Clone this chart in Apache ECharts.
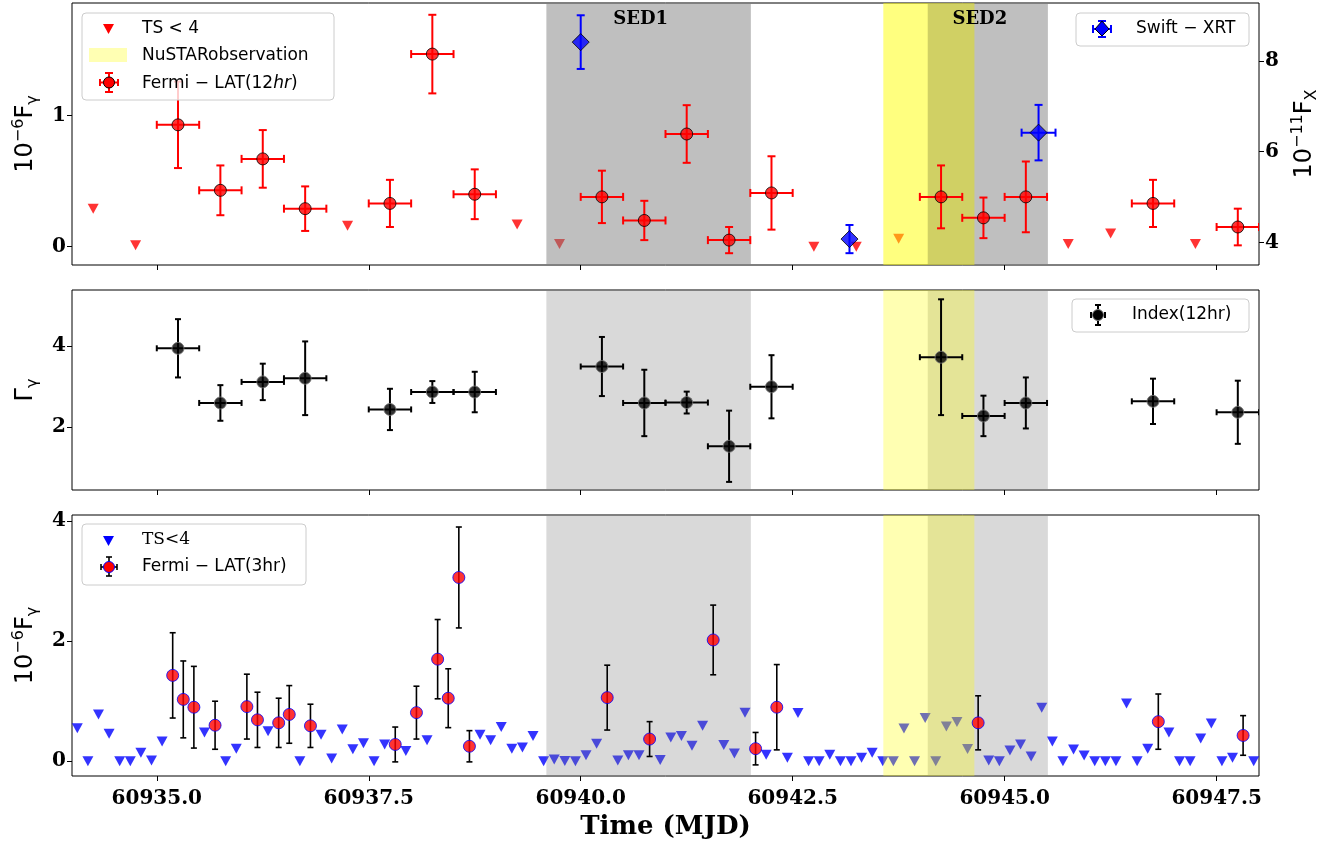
<!DOCTYPE html>
<html>
<head>
<meta charset="utf-8">
<script src="https://cdn.jsdelivr.net/npm/echarts@6/dist/echarts.min.js"></script>
<style>
  html, body { margin: 0; padding: 0; background: #fff; }
  #container { width: 1341px; height: 843px; }
</style>
</head>
<body>
<div id="container"></div>
<script>
var dom = document.getElementById("container");
var myChart = echarts.init(dom);
var option = null;

// x ticks / ranges
var xTicks = [60935.0, 60937.5, 60940.0, 60942.5, 60945.0, 60947.5];
var sedRanges = [[60939.595, 60942.007], [60944.093, 60945.51]];
var sedNames = ['SED1', 'SED2'];
var nustarRange = [60943.569, 60944.643];

// Fermi-LAT 12hr flux (top)
var lat12T = [60935.25, 60935.75, 60936.25, 60936.75, 60937.75, 60938.25, 60938.75, 60940.25, 60940.75, 60941.25, 60941.75, 60942.25, 60944.25, 60944.75, 60945.25, 60946.75, 60947.75];
var lat12F = [0.93, 0.43, 0.67, 0.29, 0.33, 1.47, 0.40, 0.38, 0.20, 0.86, 0.05, 0.41, 0.38, 0.22, 0.38, 0.33, 0.15];
var lat12Err = [0.33, 0.19, 0.22, 0.17, 0.18, 0.30, 0.19, 0.20, 0.15, 0.22, 0.10, 0.28, 0.24, 0.155, 0.27, 0.18, 0.14];
var halfBin12 = 0.25;

// 12hr upper limits (TS < 4)
var ul12T = [60934.25, 60934.75, 60937.25, 60939.25, 60939.75, 60942.75, 60943.25, 60943.75, 60945.75, 60946.25, 60947.25];
var ul12F = [0.29, 0.01, 0.16, 0.17, 0.02, 0.0, 0.0, 0.06, 0.02, 0.10, 0.02];

// Swift-XRT (right axis)
var xrtT = [60940.0, 60943.17, 60945.4];
var xrtF = [8.41, 4.08, 6.42];
var xrtErr = [0.59, 0.31, 0.61];
var xrtTErr = [0, 0, 0.2];

// photon index 12hr (middle)
var idxT = [60935.25, 60935.75, 60936.25, 60936.75, 60937.75, 60938.25, 60938.75, 60940.25, 60940.75, 60941.25, 60941.75, 60942.25, 60944.25, 60944.75, 60945.25, 60946.75, 60947.75];
var idxV = [3.94, 2.59, 3.11, 3.20, 2.43, 2.86, 2.86, 3.49, 2.59, 2.60, 1.52, 2.99, 3.72, 2.27, 2.59, 2.63, 2.36];
var idxErr = [0.72, 0.44, 0.45, 0.91, 0.51, 0.27, 0.50, 0.73, 0.82, 0.27, 0.88, 0.78, 1.43, 0.50, 0.63, 0.56, 0.78];

// Fermi-LAT 3hr flux (bottom)
var lat3T = [60935.1875, 60935.3125, 60935.4375, 60935.6875, 60936.0625, 60936.1875, 60936.4375, 60936.5625, 60936.8125, 60937.8125, 60938.0625, 60938.3125, 60938.4375, 60938.5625, 60938.6875, 60940.3125, 60940.8125, 60941.5625, 60942.0625, 60942.3125, 60944.6875, 60946.8125, 60947.8125];
var lat3F = [1.43, 1.03, 0.90, 0.60, 0.91, 0.69, 0.64, 0.78, 0.59, 0.28, 0.81, 1.70, 1.05, 3.06, 0.25, 1.06, 0.37, 2.02, 0.21, 0.90, 0.64, 0.66, 0.43];
var lat3Err = [0.71, 0.64, 0.68, 0.40, 0.54, 0.46, 0.41, 0.48, 0.36, 0.29, 0.44, 0.66, 0.49, 0.84, 0.26, 0.54, 0.29, 0.58, 0.27, 0.71, 0.45, 0.46, 0.33];

// 3hr upper limits (TS<4)
var ul3T = [60934.0625, 60934.1875, 60934.3125, 60934.4375, 60934.5625, 60934.6875, 60934.8125, 60934.9375, 60935.0625, 60935.5625,
  60935.8125, 60935.9375, 60936.3125, 60936.6875, 60936.9375, 60937.0625, 60937.1875, 60937.3125, 60937.4375, 60937.5625,
  60937.6875, 60937.9375, 60938.1875, 60938.8125, 60938.9375, 60939.0625, 60939.1875, 60939.3125, 60939.4375, 60939.5625,
  60939.6875, 60939.8125, 60939.9375, 60940.0625, 60940.1875, 60940.4375, 60940.5625, 60940.6875, 60940.9375, 60941.0625,
  60941.1875, 60941.3125, 60941.4375, 60941.6875, 60941.8125, 60941.9375, 60942.1875, 60942.4375, 60942.5625, 60942.6875,
  60942.8125, 60942.9375, 60943.0625, 60943.1875, 60943.3125, 60943.4375, 60943.5625, 60943.6875, 60943.8125, 60943.9375,
  60944.0625, 60944.1875, 60944.3125, 60944.4375, 60944.5625, 60944.8125, 60944.9375, 60945.0625, 60945.1875, 60945.3125,
  60945.4375, 60945.5625, 60945.6875, 60945.8125, 60945.9375, 60946.0625, 60946.1875, 60946.3125, 60946.4375, 60946.5625,
  60946.6875, 60946.9375, 60947.0625, 60947.1875, 60947.3125, 60947.4375, 60947.5625, 60947.6875, 60947.9375];
var ul3F = [0.55, 0.0, 0.78, 0.46, 0.0, 0.0, 0.14, 0.015, 0.33, 0.48,
  0.0, 0.21, 0.50, 0.0, 0.44, 0.045, 0.53, 0.20, 0.30, 0.0,
  0.28, 0.17, 0.35, 0.44, 0.35, 0.57, 0.21, 0.23, 0.42, 0.0,
  0.03, 0.005, 0.0, 0.10, 0.29, 0.015, 0.10, 0.10, 0.02, 0.395,
  0.42, 0.26, 0.59, 0.27, 0.13, 0.81, 0.11, 0.06, 0.805, 0.0,
  0.0, 0.11, 0.0, 0.0, 0.06, 0.14, 0.0, 0.0, 0.545, 0.0,
  0.72, 0.0, 0.58, 0.655, 0.205, 0.015, 0.0, 0.18, 0.28, 0.08,
  0.89, 0.33, 0.0, 0.195, 0.095, 0.0, 0.0, 0.0, 0.96, 0.0,
  0.21, 0.48, 0.0, 0.0, 0.38, 0.63, 0.0, 0.06, 0.0];

var SERIF = 'DejaVu Serif';
var SANS = 'DejaVu Sans';
var downTri = 'path://M0,0 L2,0 L1,2 Z';

function pairs(t, v) {
  return t.map(function (x, i) { return [x, v[i]]; });
}
function errRows(t, v, ex, ey) {
  return t.map(function (x, i) {
    return [x, v[i], (typeof ex === 'number') ? ex : ex[i], ey[i]];
  });
}

// error bars through the axes' own coordinate mapping
function errBars(color, lw, cap) {
  return function (params, api) {
    var x = api.value(0), y = api.value(1), xe = api.value(2), ye = api.value(3);
    var ls = { stroke: color, lineWidth: lw };
    var t = api.coord([x, y + ye]), b = api.coord([x, y - ye]);
    var ch = [
      { type: 'line', shape: { x1: t[0], y1: t[1], x2: b[0], y2: b[1] }, style: ls },
      { type: 'line', shape: { x1: t[0] - cap, y1: t[1], x2: t[0] + cap, y2: t[1] }, style: ls },
      { type: 'line', shape: { x1: b[0] - cap, y1: b[1], x2: b[0] + cap, y2: b[1] }, style: ls }
    ];
    if (xe > 0) {
      var l = api.coord([x - xe, y]), r = api.coord([x + xe, y]);
      ch.push({ type: 'line', shape: { x1: l[0], y1: l[1], x2: r[0], y2: r[1] }, style: ls });
      ch.push({ type: 'line', shape: { x1: l[0], y1: l[1] - cap, x2: l[0], y2: l[1] + cap }, style: ls });
      ch.push({ type: 'line', shape: { x1: r[0], y1: r[1] - cap, x2: r[0], y2: r[1] + cap }, style: ls });
    }
    return { type: 'group', children: ch };
  };
}

function shading(gray, yellow, withNames, overlapTint) {
  var d = sedRanges.map(function (r, i) {
    var a = { xAxis: r[0], itemStyle: { color: gray } };
    if (withNames) {
      a.name = sedNames[i];
    }
    return [a, { xAxis: r[1] }];
  });
  d.push([{ xAxis: nustarRange[0], itemStyle: { color: yellow } }, { xAxis: nustarRange[1] }]);
  if (overlapTint) {
    // darker olive where SED2 and NuSTAR overlap
    d.push([
      { xAxis: Math.max(sedRanges[1][0], nustarRange[0]), itemStyle: { color: overlapTint } },
      { xAxis: Math.min(sedRanges[1][1], nustarRange[1]) }
    ]);
  }
  return d;
}

function xAxisCfg(idx, showLabel) {
  return {
    type: 'value', gridIndex: idx, min: 60934, max: 60948,
    splitLine: { show: false },
    axisLine: { show: false, onZero: false },
    axisTick: { show: true, length: 5, customValues: xTicks, lineStyle: { color: '#000', width: 1 } },
    axisLabel: {
      show: showLabel, customValues: xTicks, margin: 13,
      fontFamily: SERIF, fontWeight: 'bold', fontSize: 20, color: '#000',
      formatter: function (v) { return v.toFixed(1); }
    }
  };
}

function yAxisCfg(idx, min, max, ticks, pos) {
  return {
    type: 'value', gridIndex: idx, min: min, max: max, position: pos || 'left',
    splitLine: { show: false },
    axisLine: { show: false, onZero: false },
    axisTick: { show: true, length: 5, customValues: ticks, lineStyle: { color: '#000', width: 1 } },
    axisLabel: {
      customValues: ticks, margin: 6,
      fontFamily: SERIF, fontWeight: 'bold', fontSize: 20, color: '#000'
    },
    nameLocation: 'middle', nameRotate: 90,
    nameTextStyle: {
      fontFamily: SANS, fontSize: 24, color: '#000', lineHeight: 30,
      rich: {
        sup: { fontFamily: SANS, fontSize: 16, color: '#000', verticalAlign: 'top', lineHeight: 16 },
        sub: { fontFamily: SANS, fontSize: 16, color: '#000', verticalAlign: 'bottom', lineHeight: 16 }
      }
    }
  };
}

var yTop = yAxisCfg(0, -0.14, 1.86, [0, 1]);
yTop.name = '10{sup|−6}F{sub|γ}';
yTop.nameGap = 30;
var yRight = yAxisCfg(0, 3.51, 9.27, [4, 6, 8], 'right');
yRight.name = '10{sup|−11}F{sub|X}';
yRight.nameGap = 30;
var yMid = yAxisCfg(1, 0.44, 5.38, [2, 4]);
yMid.name = 'Γ{sub|γ}';
yMid.nameGap = 30;
var yBot = yAxisCfg(2, -0.245, 4.1, [0, 2, 4]);
yBot.name = '10{sup|−6}F{sub|γ}';
yBot.nameGap = 30;

var xBot = xAxisCfg(2, true);
xBot.name = 'Time (MJD)';
xBot.nameLocation = 'middle';
xBot.nameGap = 38;
xBot.nameTextStyle = { fontFamily: SERIF, fontWeight: 'bold', fontSize: 26, color: '#000' };

var gridStyle = { show: true, borderColor: '#000', borderWidth: 1, backgroundColor: 'transparent' };

option = {
  animation: false,
  backgroundColor: '#fff',
  grid: [
    Object.assign({ left: 72, right: 82, top: 3, height: 262 }, gridStyle),
    Object.assign({ left: 72, right: 82, top: 290, height: 200 }, gridStyle),
    Object.assign({ left: 72, right: 82, top: 515, height: 261 }, gridStyle)
  ],
  xAxis: [xAxisCfg(0, false), xAxisCfg(1, false), xBot],
  yAxis: [yTop, yRight, yMid, yBot],
  series: [
    // ---- top panel ----
    {
      name: 'TS < 4', type: 'scatter', xAxisIndex: 0, yAxisIndex: 0, z: 1,
      symbol: downTri, symbolSize: [11, 10],
      itemStyle: { color: '#ff0000' },
      data: pairs(ul12T, ul12F)
    },
    {
      name: 'shade top', type: 'scatter', xAxisIndex: 0, yAxisIndex: 0, z: 2, data: [],
      markArea: {
        silent: true, z: 2,
        label: {
          show: true, position: 'insideTop', offset: [-8, 2],
          fontFamily: SERIF, fontWeight: 'bold', fontSize: 18, color: '#000'
        },
        data: shading('rgba(128,128,128,0.5)', 'rgba(255,255,0,0.5)', true, 'rgba(128,128,128,0.16)')
      }
    },
    {
      name: 'lat12 err', type: 'custom', xAxisIndex: 0, yAxisIndex: 0, z: 3, clip: true,
      renderItem: errBars('#ff0000', 2, 4),
      encode: { x: 0, y: 1 },
      data: errRows(lat12T, lat12F, halfBin12, lat12Err)
    },
    {
      name: 'Fermi - LAT(12hr)', type: 'scatter', xAxisIndex: 0, yAxisIndex: 0, z: 4,
      symbol: 'circle', symbolSize: 12,
      itemStyle: { color: '#ff0000', borderColor: '#000', borderWidth: 1 },
      data: pairs(lat12T, lat12F)
    },
    {
      name: 'xrt err', type: 'custom', xAxisIndex: 0, yAxisIndex: 1, z: 3, clip: true,
      renderItem: errBars('#0000ff', 2, 4),
      encode: { x: 0, y: 1 },
      data: errRows(xrtT, xrtF, xrtTErr, xrtErr)
    },
    {
      name: 'Swift - XRT', type: 'scatter', xAxisIndex: 0, yAxisIndex: 1, z: 4,
      symbol: 'diamond', symbolSize: [17, 17],
      itemStyle: { color: '#0000ff', borderColor: '#000', borderWidth: 1 },
      data: pairs(xrtT, xrtF)
    },
    // ---- middle panel ----
    {
      name: 'shade mid', type: 'scatter', xAxisIndex: 1, yAxisIndex: 2, z: 2, data: [],
      markArea: { silent: true, z: 2, data: shading('rgba(128,128,128,0.3)', 'rgba(255,255,0,0.3)', false) }
    },
    {
      name: 'idx err', type: 'custom', xAxisIndex: 1, yAxisIndex: 2, z: 3, clip: true,
      renderItem: errBars('#000', 2, 3),
      encode: { x: 0, y: 1 },
      data: errRows(idxT, idxV, halfBin12, idxErr)
    },
    {
      name: 'Index(12hr)', type: 'scatter', xAxisIndex: 1, yAxisIndex: 2, z: 4,
      symbol: 'circle', symbolSize: 12,
      itemStyle: { color: '#000', borderColor: '#777', borderWidth: 1 },
      data: pairs(idxT, idxV)
    },
    // ---- bottom panel ----
    {
      name: 'TS<4', type: 'scatter', xAxisIndex: 2, yAxisIndex: 3, z: 1,
      symbol: downTri, symbolSize: [11, 10],
      itemStyle: { color: '#0000ff' },
      data: pairs(ul3T, ul3F)
    },
    {
      name: 'shade bot', type: 'scatter', xAxisIndex: 2, yAxisIndex: 3, z: 2, data: [],
      markArea: { silent: true, z: 2, data: shading('rgba(128,128,128,0.3)', 'rgba(255,255,0,0.3)', false) }
    },
    {
      name: 'lat3 err', type: 'custom', xAxisIndex: 2, yAxisIndex: 3, z: 3, clip: true,
      renderItem: errBars('#000', 1.6, 3),
      encode: { x: 0, y: 1 },
      data: errRows(lat3T, lat3F, 0, lat3Err)
    },
    {
      name: 'Fermi - LAT(3hr)', type: 'scatter', xAxisIndex: 2, yAxisIndex: 3, z: 4,
      symbol: 'circle', symbolSize: 12,
      itemStyle: { color: '#ff0000', borderColor: '#0000ff', borderWidth: 1 },
      data: pairs(lat3T, lat3F)
    }
  ],
  graphic: [
    // legend: top left
    { type: 'rect', x: 82, y: 13, z: 20, shape: { width: 252, height: 87, r: 4 }, style: { fill: 'rgba(255,255,255,0.8)', stroke: '#cccccc', lineWidth: 1 } },
    { type: 'polygon', z: 21, shape: { points: [[103, 24], [114, 24], [108.5, 34]] }, style: { fill: '#ff0000' } },
    { type: 'text', x: 142, y: 29, z: 21, style: { text: 'TS < 4', fontFamily: SANS, fontSize: 17, fill: '#000', verticalAlign: 'middle' } },
    { type: 'rect', x: 89, y: 48, z: 21, shape: { width: 38, height: 14 }, style: { fill: '#ffffb3' } },
    { type: 'text', x: 142, y: 56, z: 21, style: { text: 'NuSTARobservation', fontFamily: SANS, fontSize: 17, fill: '#000', verticalAlign: 'middle' } },
    { type: 'polyline', z: 21, shape: { points: [[109, 73], [109, 92]] }, style: { stroke: '#ff0000', lineWidth: 2 } },
    { type: 'polyline', z: 21, shape: { points: [[105, 73], [113, 73]] }, style: { stroke: '#ff0000', lineWidth: 2 } },
    { type: 'polyline', z: 21, shape: { points: [[105, 92], [113, 92]] }, style: { stroke: '#ff0000', lineWidth: 2 } },
    { type: 'polyline', z: 21, shape: { points: [[100, 82.5], [118, 82.5]] }, style: { stroke: '#ff0000', lineWidth: 2 } },
    { type: 'polyline', z: 21, shape: { points: [[100, 79], [100, 86]] }, style: { stroke: '#ff0000', lineWidth: 2 } },
    { type: 'polyline', z: 21, shape: { points: [[118, 79], [118, 86]] }, style: { stroke: '#ff0000', lineWidth: 2 } },
    { type: 'circle', z: 22, shape: { cx: 109, cy: 82.5, r: 5.5 }, style: { fill: '#ff0000', stroke: '#000', lineWidth: 1 } },
    {
      type: 'text', x: 142, y: 84, z: 21,
      style: {
        text: 'Fermi − LAT(12{i|hr})', fontFamily: SANS, fontSize: 17, fill: '#000', verticalAlign: 'middle',
        rich: { i: { fontFamily: SANS, fontSize: 17, fontStyle: 'italic', fill: '#000' } }
      }
    },
    // legend: top right
    { type: 'rect', x: 1076, y: 13, z: 20, shape: { width: 173, height: 33, r: 4 }, style: { fill: 'rgba(255,255,255,0.8)', stroke: '#cccccc', lineWidth: 1 } },
    { type: 'polyline', z: 21, shape: { points: [[1093, 29], [1111, 29]] }, style: { stroke: '#0000ff', lineWidth: 2 } },
    { type: 'polyline', z: 21, shape: { points: [[1093, 25], [1093, 33]] }, style: { stroke: '#0000ff', lineWidth: 2 } },
    { type: 'polyline', z: 21, shape: { points: [[1111, 25], [1111, 33]] }, style: { stroke: '#0000ff', lineWidth: 2 } },
    { type: 'polyline', z: 21, shape: { points: [[1102, 21], [1102, 37]] }, style: { stroke: '#0000ff', lineWidth: 2 } },
    { type: 'polyline', z: 21, shape: { points: [[1098, 21], [1106, 21]] }, style: { stroke: '#0000ff', lineWidth: 2 } },
    { type: 'polyline', z: 21, shape: { points: [[1098, 37], [1106, 37]] }, style: { stroke: '#0000ff', lineWidth: 2 } },
    { type: 'polygon', z: 22, shape: { points: [[1102, 21], [1109, 29], [1102, 36], [1095, 29]] }, style: { fill: '#0000ff', stroke: '#000', lineWidth: 1 } },
    { type: 'text', x: 1136, y: 29, z: 21, style: { text: 'Swift − XRT', fontFamily: SANS, fontSize: 17, fill: '#000', verticalAlign: 'middle' } },
    // legend: middle
    { type: 'rect', x: 1072, y: 299, z: 20, shape: { width: 177, height: 33, r: 4 }, style: { fill: 'rgba(255,255,255,0.8)', stroke: '#cccccc', lineWidth: 1 } },
    { type: 'polyline', z: 21, shape: { points: [[1091, 315], [1105, 315]] }, style: { stroke: '#000', lineWidth: 2 } },
    { type: 'polyline', z: 21, shape: { points: [[1091, 312], [1091, 318]] }, style: { stroke: '#000', lineWidth: 2 } },
    { type: 'polyline', z: 21, shape: { points: [[1105, 312], [1105, 318]] }, style: { stroke: '#000', lineWidth: 2 } },
    { type: 'polyline', z: 21, shape: { points: [[1098, 305], [1098, 325]] }, style: { stroke: '#000', lineWidth: 2 } },
    { type: 'polyline', z: 21, shape: { points: [[1095, 305], [1101, 305]] }, style: { stroke: '#000', lineWidth: 2 } },
    { type: 'polyline', z: 21, shape: { points: [[1095, 325], [1101, 325]] }, style: { stroke: '#000', lineWidth: 2 } },
    { type: 'circle', z: 22, shape: { cx: 1098, cy: 315, r: 5.5 }, style: { fill: '#000', stroke: '#777', lineWidth: 1 } },
    { type: 'text', x: 1132, y: 315, z: 21, style: { text: 'Index(12hr)', fontFamily: SANS, fontSize: 17, fill: '#000', verticalAlign: 'middle' } },
    // legend: bottom
    { type: 'rect', x: 82, y: 524, z: 20, shape: { width: 224, height: 61, r: 4 }, style: { fill: 'rgba(255,255,255,0.8)', stroke: '#cccccc', lineWidth: 1 } },
    { type: 'polygon', z: 21, shape: { points: [[103, 536], [114, 536], [108.5, 546]] }, style: { fill: '#0000ff' } },
    { type: 'text', x: 142, y: 540, z: 21, style: { text: 'TS<4', fontFamily: SERIF, fontSize: 17, fill: '#000', verticalAlign: 'middle' } },
    { type: 'polyline', z: 21, shape: { points: [[109, 557], [109, 576]] }, style: { stroke: '#000', lineWidth: 1.6 } },
    { type: 'polyline', z: 21, shape: { points: [[106, 557], [112, 557]] }, style: { stroke: '#000', lineWidth: 1.6 } },
    { type: 'polyline', z: 21, shape: { points: [[106, 576], [112, 576]] }, style: { stroke: '#000', lineWidth: 1.6 } },
    { type: 'polyline', z: 21, shape: { points: [[101, 567], [117, 567]] }, style: { stroke: '#000', lineWidth: 1.6 } },
    { type: 'polyline', z: 21, shape: { points: [[101, 564], [101, 570]] }, style: { stroke: '#000', lineWidth: 1.6 } },
    { type: 'polyline', z: 21, shape: { points: [[117, 564], [117, 570]] }, style: { stroke: '#000', lineWidth: 1.6 } },
    { type: 'circle', z: 22, shape: { cx: 109, cy: 567, r: 5.5 }, style: { fill: '#ff0000', stroke: '#0000ff', lineWidth: 1 } },
    { type: 'text', x: 142, y: 567, z: 21, style: { text: 'Fermi − LAT(3hr)', fontFamily: SANS, fontSize: 17, fill: '#000', verticalAlign: 'middle' } }
  ]
};

if (option && typeof option === "object") {
  myChart.setOption(option, true);
}
</script>
</body>
</html>
